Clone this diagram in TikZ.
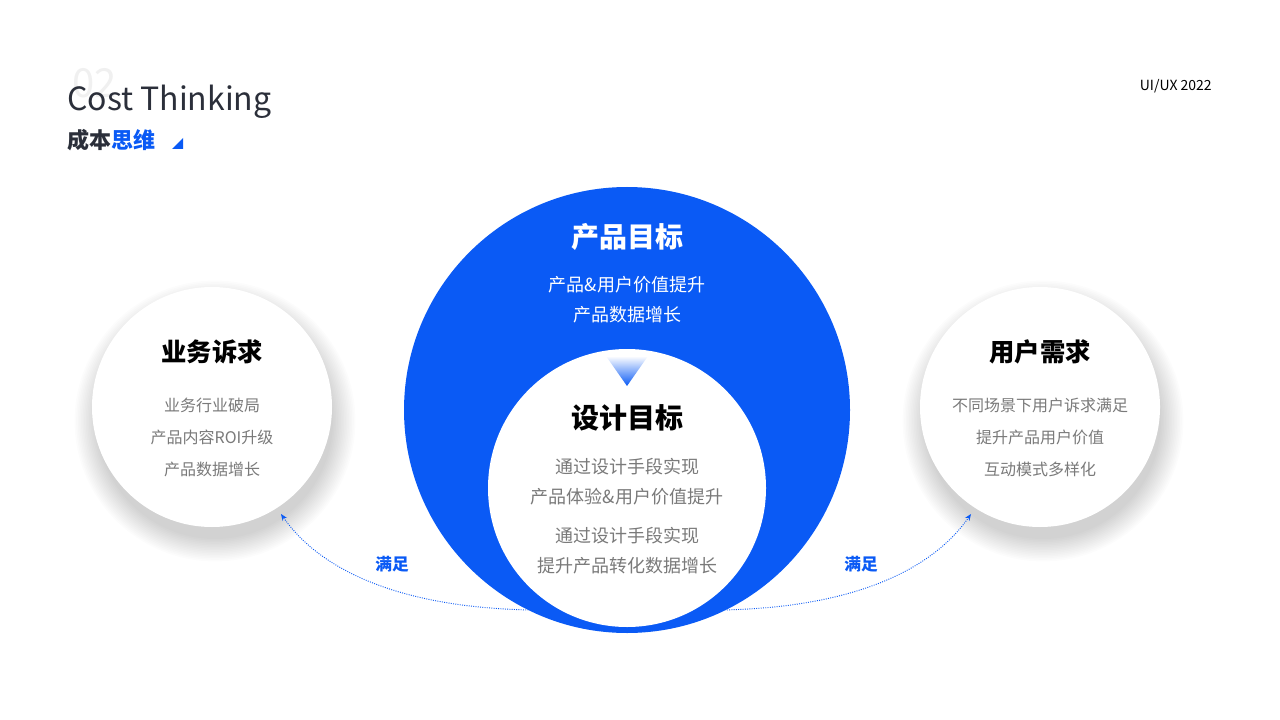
\documentclass[tikz,border=0pt]{standalone}
\usepackage{fontspec}
\setmainfont{Noto Sans CJK SC}
\usetikzlibrary{arrows.meta}
\definecolor{bl}{HTML}{0A5AF5}
\definecolor{dk}{HTML}{2B2F3A}
\definecolor{gr}{HTML}{7A7A7A}
\tikzset{sidec/.style={circle,fill=white,minimum size=240*0.75pt,inner sep=0pt},
  txt/.style={inner sep=0pt,align=center},
  arr/.style={bl,densely dotted,line width=0.7pt,-{Stealth[length=5pt,width=4pt]}}}
\newcommand{\softshadow}[2]{%
  \foreach \k in {0,...,14}{
    \fill[black,opacity=0.012] (#1+3,#2+14) circle ({(118+\k*1.6)*0.75pt});
  }}
\begin{document}
\begin{tikzpicture}[x=0.75pt,y=-0.75pt]
\useasboundingbox[fill=white] (0,0) rectangle (1280,720);
\node[txt,anchor=west,text=gray!12,font=\fontsize{30}{30}\selectfont] (num) at (72,83) {02};
\node[txt,anchor=west,text=dk,font=\fontsize{24}{24}\selectfont] (title) at (67,102) {Cost Thinking};
\node[txt,anchor=west,font=\bfseries\fontsize{16.5}{16.5}\selectfont] (sub) at (67,140) {\textcolor{dk}{成本}\textcolor{bl}{思维}};
\fill[bl] (172,149) -- (183,149) -- (183,138) -- cycle;
\node[txt,anchor=east,font=\fontsize{10.5}{10.5}\selectfont] (yr) at (1212,86) {UI/UX 2022};
% side circles
\softshadow{212}{407}
\softshadow{1040}{407}
\node[sidec] (L) at (212,407) {};
\node[sidec] (R) at (1040,407) {};
\node[txt,font=\bfseries\fontsize{19}{19}\selectfont] (Lt) at (212,352) {业务诉求};
\node[txt,text=gr,font=\fontsize{12}{24}\selectfont] (Lb) at (212,437) {业务行业破局\\产品内容ROI升级\\产品数据增长};
\node[txt,font=\bfseries\fontsize{19}{19}\selectfont] (Rt) at (1040,352) {用户需求};
\node[txt,text=gr,font=\fontsize{12}{24}\selectfont] (Rb) at (1040,437) {不同场景下用户诉求满足\\提升产品用户价值\\互动模式多样化};
% big circle
\node[circle,fill=bl,minimum size=446*0.75pt,inner sep=0pt] (B) at (627,410) {};
\node[circle,fill=white,minimum size=278*0.75pt,inner sep=0pt] (I) at (627,488) {};
\shade[top color=white,bottom color=bl] (606,356) -- (648,356) -- (627,386) -- cycle;
\node[txt,text=white,font=\bfseries\fontsize{21}{21}\selectfont] (Bt) at (627,237) {产品目标};
\node[txt,text=white,font=\fontsize{13.5}{22.5}\selectfont] (Bb) at (627,300) {产品\&用户价值提升\\产品数据增长};
\node[txt,font=\bfseries\fontsize{21}{21}\selectfont] (It) at (627,418) {设计目标};
\node[txt,text=gr,font=\fontsize{13.5}{22.5}\selectfont] (Ib1) at (627,482) {通过设计手段实现\\产品体验\&用户价值提升};
\node[txt,text=gr,font=\fontsize{13.5}{22.5}\selectfont] (Ib2) at (627,551) {通过设计手段实现\\提升产品转化数据增长};
% arrows
\coordinate (la) at (533,610);
\coordinate (ra) at (720,610);
\coordinate (le) at (281,514);
\coordinate (re) at (971,514);
\draw[arr] (la) .. controls (400,608) and (320,570) .. (le);
\draw[arr] (ra) .. controls (853,608) and (932,570) .. (re);
\node[txt,text=bl,font=\bfseries\fontsize{12.5}{12.5}\selectfont] (m1) at (392,564) {满足};
\node[txt,text=bl,font=\bfseries\fontsize{12.5}{12.5}\selectfont] (m2) at (861,564) {满足};
\end{tikzpicture}
\end{document}
